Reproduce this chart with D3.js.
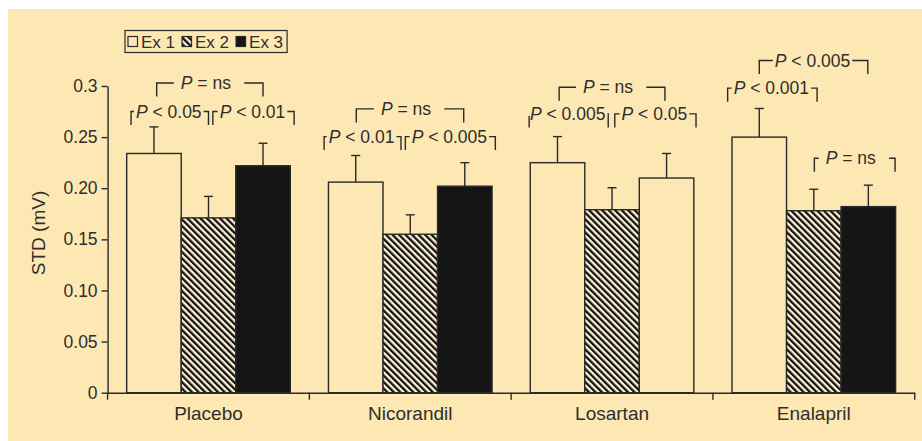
<!DOCTYPE html>
<html>
<head>
<meta charset="utf-8">
<script src="https://cdnjs.cloudflare.com/ajax/libs/d3/7.8.5/d3.min.js"></script>
<style>
  html, body { margin: 0; padding: 0; background: #fff; }
  svg text { font-family: "Liberation Sans", Arial, Helvetica, sans-serif; fill: #2e2e2e; }
</style>
</head>
<body>
<div id="chart"></div>
<script>
// values (STD in mV, mean and upper error bar)
var categories = ["Placebo", "Nicorandil", "Losartan", "Enalapril"];
var seriesNames = ["Ex 1", "Ex 2", "Ex 3"];
var ex1 = [0.234, 0.206, 0.225, 0.250];
var ex2 = [0.171, 0.155, 0.179, 0.178];
var ex3 = [0.222, 0.202, 0.210, 0.182];
var ex1Err = [0.026, 0.026, 0.0255, 0.028];
var ex2Err = [0.021, 0.019, 0.0215, 0.021];
var ex3Err = [0.022, 0.023, 0.024, 0.021];
var yTicks = [0, 0.05, 0.10, 0.15, 0.20, 0.25, 0.3];
var yTickLabels = ["0", "0.05", "0.10", "0.15", "0.20", "0.25", "0.3"];

// significance brackets: from/to in bar units inside the group, level in mV
var sig = [
    {cat: "Placebo", from: 0.08, to: 1.5, level: 0.275, label: "< 0.05"},
    {cat: "Placebo", from: 1.58, to: 3.07, level: 0.275, label: "< 0.01"},
    {cat: "Placebo", from: 0.55, to: 2.5, level: 0.303, label: "= ns"},
    {cat: "Nicorandil", from: -0.08, to: 1.33, level: 0.2505, label: "< 0.01"},
    {cat: "Nicorandil", from: 1.41, to: 3.06, level: 0.2505, label: "< 0.005"},
    {cat: "Nicorandil", from: 0.51, to: 2.48, level: 0.2776, label: "= ns"},
    {cat: "Losartan", from: -0.02, to: 1.43, level: 0.2727, label: "< 0.005"},
    {cat: "Losartan", from: 1.55, to: 3.04, level: 0.2727, label: "< 0.05"},
    {cat: "Losartan", from: 0.53, to: 2.47, level: 0.2988, label: "= ns"},
    {cat: "Enalapril", from: -0.08, to: 1.56, level: 0.2979, label: "< 0.001"},
    {cat: "Enalapril", from: 0.5, to: 2.49, level: 0.3249, label: "< 0.005"},
    {cat: "Enalapril", from: 1.51, to: 2.99, level: 0.2294, label: "= ns"}
];

var W = 922, H = 441,
    bg = "#fde8b4",
    ink = "#2a2a2a";

var data = [];
categories.forEach(function (c, i) {
    data.push({cat: c, s: 0, v: ex1[i], e: ex1Err[i]});
    data.push({cat: c, s: 1, v: ex2[i], e: ex2Err[i]});
    data.push({cat: c, s: 2, v: ex3[i], e: ex3Err[i]});
});

var svg = d3.select("#chart").append("svg")
    .attr("width", W)
    .attr("height", H);

var defs = svg.append("defs");
var hatch = defs.append("pattern")
    .attr("id", "hatch")
    .attr("patternUnits", "userSpaceOnUse")
    .attr("width", 4.6)
    .attr("height", 4.6)
    .attr("patternTransform", "rotate(-45)");
hatch.append("rect").attr("width", 4.6).attr("height", 4.6).attr("fill", "#fff4d6");
hatch.append("rect").attr("width", 2.3).attr("height", 4.6).attr("fill", "#111");

svg.append("rect")
    .attr("x", 8).attr("y", 9)
    .attr("width", W - 8).attr("height", H - 9)
    .attr("fill", bg);

var x = d3.scaleBand().domain(categories).range([107.6, 914.7]).padding(0),
    xs = d3.scaleBand().domain([0, 1, 2]).range([0, x.bandwidth()]).paddingInner(0).paddingOuter(0.35),
    y = d3.scaleLinear().domain([0, 0.3]).range([392.7, 86]);

function fillFor(d) {
    if (d.s === 0) return "none";
    if (d.s === 1) return "url(#hatch)";
    // the source figure leaves Losartan's Ex 3 bar unfilled
    return d.cat === "Losartan" ? "none" : "#151515";
}

// error bars (drawn first so the bar outline sits on top)
var err = svg.append("g").attr("class", "errors")
    .attr("stroke", ink).attr("stroke-width", 1.4);
data.forEach(function (d) {
    var cx = x(d.cat) + xs(d.s) + xs.bandwidth() / 2;
    err.append("line")
        .attr("x1", cx).attr("x2", cx)
        .attr("y1", y(d.v)).attr("y2", y(d.v + d.e));
    err.append("line")
        .attr("x1", cx - 4.5).attr("x2", cx + 4.5)
        .attr("y1", y(d.v + d.e)).attr("y2", y(d.v + d.e));
});

svg.append("g").attr("class", "bars")
    .selectAll("rect")
    .data(data)
    .enter().append("rect")
    .attr("x", function (d) { return x(d.cat) + xs(d.s); })
    .attr("y", function (d) { return y(d.v); })
    .attr("width", xs.bandwidth())
    .attr("height", function (d) { return y(0) - y(d.v); })
    .attr("fill", fillFor)
    .attr("stroke", ink)
    .attr("stroke-width", 1.4);

// y axis
var yAxis = d3.axisLeft(y)
    .tickValues(yTicks)
    .tickFormat(function (d, i) { return yTickLabels[i]; })
    .tickSize(6)
    .tickSizeOuter(0)
    .tickPadding(4);
var gy = svg.append("g")
    .attr("transform", "translate(" + x.range()[0] + ",0)")
    .call(yAxis);
gy.selectAll("path, line").attr("stroke", ink).attr("stroke-width", 1.4);
gy.selectAll("text").style("font-size", "17.5px").attr("fill", "#2e2e2e");

// x axis: labels centred in bands, ticks at band boundaries
var xAxis = d3.axisBottom(x).tickSize(0).tickPadding(14).tickSizeOuter(0);
var gx = svg.append("g")
    .attr("transform", "translate(0," + y(0) + ")")
    .call(xAxis);
gx.select(".domain").attr("stroke", ink).attr("stroke-width", 1.4);
gx.selectAll("text").style("font-size", "19px").attr("fill", "#2e2e2e");
var bounds = categories.map(function (c) { return x(c); }).concat([x.range()[1]]);
gx.selectAll(".bound")
    .data(bounds)
    .enter().append("line")
    .attr("class", "bound")
    .attr("x1", function (d) { return d; })
    .attr("x2", function (d) { return d; })
    .attr("y1", 0).attr("y2", 7)
    .attr("stroke", ink).attr("stroke-width", 1.4);

svg.append("text")
    .attr("transform", "translate(45,233) rotate(-90)")
    .attr("text-anchor", "middle")
    .style("font-size", "19px")
    .text("STD (mV)");

// significance brackets
var gs = svg.append("g").attr("class", "sig");
sig.forEach(function (s) {
    var step = xs.step(),
        x0 = x(s.cat) + xs(0),
        x1 = x0 + s.from * step,
        x2 = x0 + s.to * step,
        yl = y(s.level),
        drop = 13.5,
        ns = s.label.indexOf("ns") >= 0,
        cx = (x1 + x2) / 2 - (ns ? 4 : 1);

    gs.append("path")
        .attr("d", "M" + x1 + "," + (yl + drop) + "V" + yl + "H" + x2 + "V" + (yl + drop))
        .attr("fill", "none")
        .attr("stroke", ink)
        .attr("stroke-width", 1.4);

    var t = gs.append("text")
        .attr("x", cx)
        .attr("y", yl + 6)
        .attr("text-anchor", "middle")
        .style("font-size", "17.5px");
    t.append("tspan").style("font-style", "italic").text("P");
    t.append("tspan").text(" " + s.label);

    var bb = t.node().getBBox(),
        padL = ns ? 7 : 2,
        padR = ns ? 13 : 2;
    gs.insert("rect", function () { return t.node(); })
        .attr("x", bb.x - padL)
        .attr("y", yl - 2)
        .attr("width", bb.width + padL + padR)
        .attr("height", 4)
        .attr("fill", bg);
});

// legend
var lg = svg.append("g").attr("class", "legend");
var lx = 128, ly = 41.5;
var legendFill = ["none", "url(#hatch)", "#151515"];
seriesNames.forEach(function (name, i) {
    lg.append("rect")
        .attr("x", lx).attr("y", ly - 5)
        .attr("width", 9.5).attr("height", 10)
        .attr("fill", legendFill[i])
        .attr("stroke", ink).attr("stroke-width", 1.2);
    var t = lg.append("text")
        .attr("x", lx + 13)
        .attr("y", ly + 6.2)
        .style("font-size", "17px")
        .text(name);
    lx += 13 + t.node().getComputedTextLength() + 7;
});
lg.insert("rect", ":first-child")
    .attr("x", 125)
    .attr("y", ly - 11)
    .attr("width", lx - 125 - 3)
    .attr("height", 22)
    .attr("fill", "none")
    .attr("stroke", ink)
    .attr("stroke-width", 1.2);
</script>
</body>
</html>
